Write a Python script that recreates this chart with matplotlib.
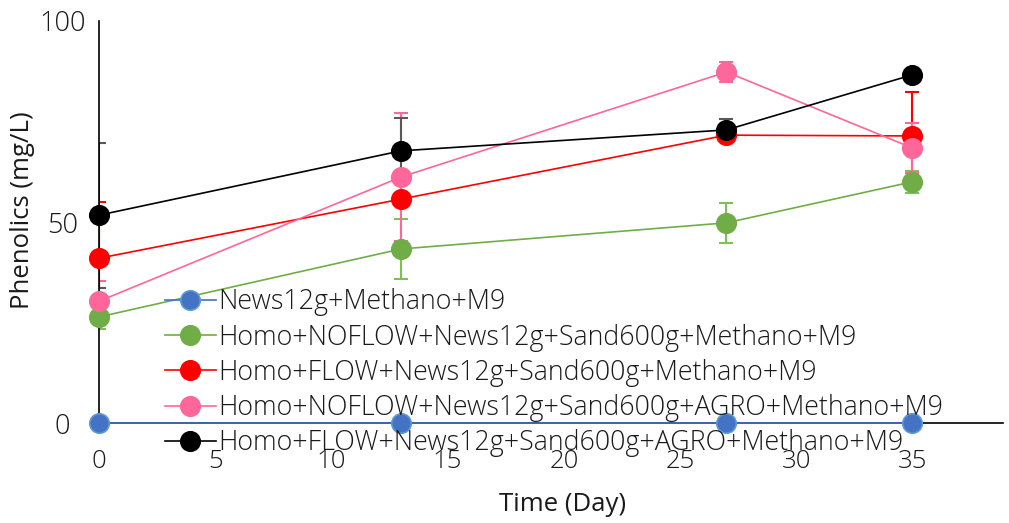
import matplotlib
matplotlib.use("Agg")
import matplotlib.pyplot as plt

# Sampling days and phenolics concentration (mg/L) per treatment
days = [0, 13, 27, 35]

series_names = [
    "News12g+Methano+M9",
    "Homo+NOFLOW+News12g+Sand600g+Methano+M9",
    "Homo+FLOW+News12g+Sand600g+Methano+M9",
    "Homo+NOFLOW+News12g+Sand600g+AGRO+Methano+M9",
    "Homo+FLOW+News12g+Sand600g+AGRO+Methano+M9",
]
news_methano = [0, 0, 0, 0]
noflow_sand = [26.4, 43.3, 49.8, 60.0]
flow_sand = [41.0, 55.7, 71.6, 71.4]
noflow_agro = [30.3, 61.2, 87.3, 68.4]
flow_agro = [51.7, 67.7, 72.9, 86.6]

# Standard deviations
news_methano_err = [0, 0, 0, 0]
noflow_sand_err = [3.0, 7.5, 5.0, 2.8]
flow_sand_err = [14.0, 0.5, 0.5, 11.0]
noflow_agro_err = [5.0, 16.0, 2.4, 6.3]
flow_agro_err = [18.0, 8.2, 2.7, 0.0]

x_ticks = [0, 5, 10, 15, 20, 25, 30, 35]
y_ticks = [0, 50, 100]

values = [news_methano, noflow_sand, flow_sand, noflow_agro, flow_agro]
errors = [news_methano_err, noflow_sand_err, flow_sand_err, noflow_agro_err, flow_agro_err]
colors = ["#4472C4", "#70AD47", "#FF0000", "#FF6699", "#000000"]
edge_colors = ["#5B9BD5", "#70AD47", "#FF0000", "#FF6699", "#000000"]
err_colors = ["#4472C4", "#7FBF5A", "#FF0000", "#FF6699", "#595959"]

plt.rcParams["font.family"] = ["Open Sans", "DejaVu Sans"]
plt.rcParams["font.weight"] = "light"

FS = 18.5
TXT = "#1a1a1a"

fig = plt.figure(figsize=(10.09, 5.23), dpi=100)
ax = fig.add_axes([0.0981, 0.191, 0.896, 0.769])

for i in range(len(values)):
    ax.errorbar(days, values[i], yerr=errors[i], fmt="none", ecolor=err_colors[i],
                elinewidth=1.5, capsize=5, capthick=1.5, zorder=2 + i * 0.1)
for i in range(len(values)):
    ax.plot(days, values[i], color=colors[i], lw=1.2, marker="o", markersize=14,
            markerfacecolor=colors[i], markeredgecolor=edge_colors[i],
            markeredgewidth=1.2, label=series_names[i], clip_on=False, zorder=3 + i * 0.1)

ax.set_xlim(0, 38.9)
ax.set_ylim(0, 100)
ax.set_xticks(x_ticks)
ax.set_yticks(y_ticks)
ax.tick_params(axis="both", length=0, labelsize=FS, colors=TXT)
ax.tick_params(axis="x", pad=19)
ax.tick_params(axis="y", pad=26.5)
for lbl in ax.get_yticklabels():
    lbl.set_horizontalalignment("center")
    lbl.set_fontsize(19.5)

for side in ["top", "right"]:
    ax.spines[side].set_visible(False)
ax.spines["left"].set_color("black")
ax.spines["bottom"].set_color("black")
ax.spines["left"].set_linewidth(1.2)
ax.spines["bottom"].set_linewidth(1.2)

ax.set_xlabel("Time (Day)", fontsize=FS, color=TXT)
ax.set_ylabel("Phenolics (mg/L)", fontsize=FS, color=TXT)
ax.xaxis.set_label_coords(0.513, -0.172)
ax.yaxis.set_label_coords(-0.0708, 0.53)

leg = ax.legend(loc="upper left", bbox_to_anchor=(0.073, 0.335), frameon=False,
                fontsize=19.3, handlelength=1.9, handletextpad=0.1,
                labelspacing=0.27, borderaxespad=0, borderpad=0)
for t in leg.get_texts():
    t.set_color(TXT)

fig.savefig("out.png", dpi=100)
